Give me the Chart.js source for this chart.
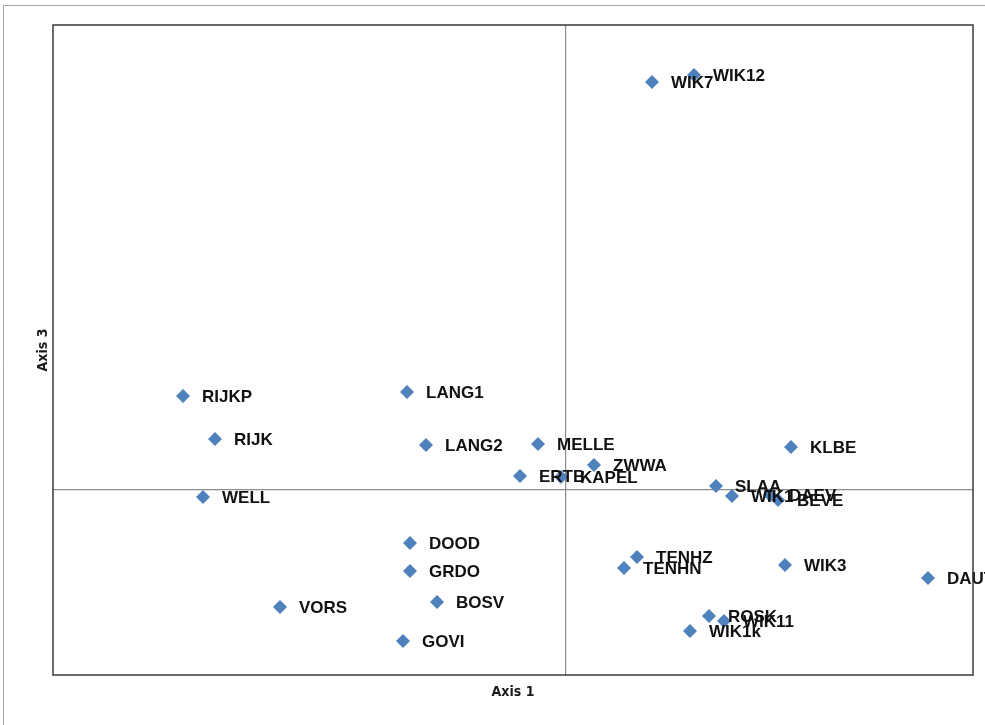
<!DOCTYPE html>
<html>
<head>
<meta charset="utf-8">
<script src="https://cdn.jsdelivr.net/npm/chart.js@4.4.1/dist/chart.umd.min.js"></script>
<style>
  html, body { margin: 0; padding: 0; background: #fff; }
  #wrap { width: 985px; height: 725px; position: relative; }
</style>
</head>
<body>
<div id="wrap"><canvas id="c" width="985" height="725"></canvas></div>
<script>
// Site scores on ordination axes 1 and 3
const sites = ["WIK7","WIK12","RIJKP","LANG1","RIJK","LANG2","MELLE","ZWWA","ERTB","KAPEL",
  "WELL","KLBE","SLAA","WIK1","DAEV","BEVE","DOOD","GRDO","BOSV","VORS",
  "GOVI","TENHZ","TENHN","WIK3","DAUT","ROSK","WIK11","WIK1k"];
const axis1 = [0.86, 1.28, -3.83, -1.59, -3.51, -1.40, -0.28, 0.28, -0.46, -0.05,
  -3.63, 2.25, 1.50, 1.66, 2.04, 2.12, -1.56, -1.56, -1.29, -2.86,
  -1.63, 0.71, 0.58, 2.19, 3.62, 1.43, 1.58, 1.24];
const axis3 = [4.08, 4.15, 0.94, 0.98, 0.51, 0.45, 0.46, 0.25, 0.14, 0.13,
  -0.07, 0.43, 0.04, -0.06, -0.05, -0.10, -0.53, -0.81, -1.12, -1.17,
  -1.51, -0.67, -0.78, -0.75, -0.88, -1.26, -1.31, -1.41];
const xRange = [-5.13, 4.07];
const yRange = [-1.85, 4.65];

const points = sites.map((s, i) => ({ x: axis1[i], y: axis3[i], label: s }));

// Outer frame, plot border, axis titles and point labels
const decor = {
  id: 'decor',
  beforeDraw(chart) {
    const ctx = chart.ctx;
    ctx.save();
    ctx.strokeStyle = '#a6a6a6';
    ctx.lineWidth = 1;
    ctx.beginPath();
    ctx.moveTo(3.5, 725);
    ctx.lineTo(3.5, 5.5);
    ctx.lineTo(985, 5.5);
    ctx.stroke();
    ctx.restore();
  },
  afterDatasetsDraw(chart) {
    const ctx = chart.ctx;
    const meta = chart.getDatasetMeta(0);
    ctx.save();
    ctx.font = 'bold 17px "Liberation Sans", Arial, sans-serif';
    ctx.fillStyle = '#111';
    ctx.textAlign = 'left';
    ctx.textBaseline = 'middle';
    meta.data.forEach((el, i) => {
      ctx.fillText(points[i].label, el.x + 19, el.y + 1);
    });
    ctx.restore();
  },
  afterDraw(chart) {
    const ctx = chart.ctx;
    const a = chart.chartArea;
    ctx.save();
    ctx.strokeStyle = '#3a3a3a';
    ctx.lineWidth = 1.5;
    ctx.strokeRect(a.left, a.top, a.right - a.left, a.bottom - a.top);
    ctx.fillStyle = '#1a1a1a';
    ctx.font = 'bold 14px "DejaVu Sans Condensed", "Liberation Sans", sans-serif';
    ctx.textAlign = 'center';
    ctx.textBaseline = 'middle';
    ctx.fillText('Axis 1', (a.left + a.right) / 2, 692);
    ctx.translate(43, (a.top + a.bottom) / 2);
    ctx.rotate(-Math.PI / 2);
    ctx.fillText('Axis 3', 0, 0);
    ctx.restore();
  }
};

const zeroGrid = {
  color: (c) => (c.tick && c.tick.value === 0 ? '#8c8c8c' : 'rgba(0,0,0,0)'),
  lineWidth: 1.2,
  drawTicks: false
};

new Chart(document.getElementById('c'), {
  type: 'scatter',
  data: {
    datasets: [{
      data: points,
      pointStyle: 'rectRot',
      pointRadius: 7,
      pointHoverRadius: 7,
      backgroundColor: '#4f81bd',
      borderColor: '#4f81bd',
      borderWidth: 0
    }]
  },
  options: {
    responsive: false,
    animation: false,
    layout: { padding: { left: 53, right: 12, top: 25, bottom: 50 } },
    plugins: { legend: { display: false }, tooltip: { enabled: false } },
    scales: {
      x: {
        type: 'linear',
        min: xRange[0], max: xRange[1],
        ticks: { display: false, stepSize: 1 },
        grid: zeroGrid,
        border: { display: false },
        afterFit: (s) => { s.height = 0; }
      },
      y: {
        type: 'linear',
        min: yRange[0], max: yRange[1],
        ticks: { display: false, stepSize: 1 },
        grid: zeroGrid,
        border: { display: false },
        afterFit: (s) => { s.width = 0; }
      }
    }
  },
  plugins: [decor]
});
</script>
</body>
</html>
